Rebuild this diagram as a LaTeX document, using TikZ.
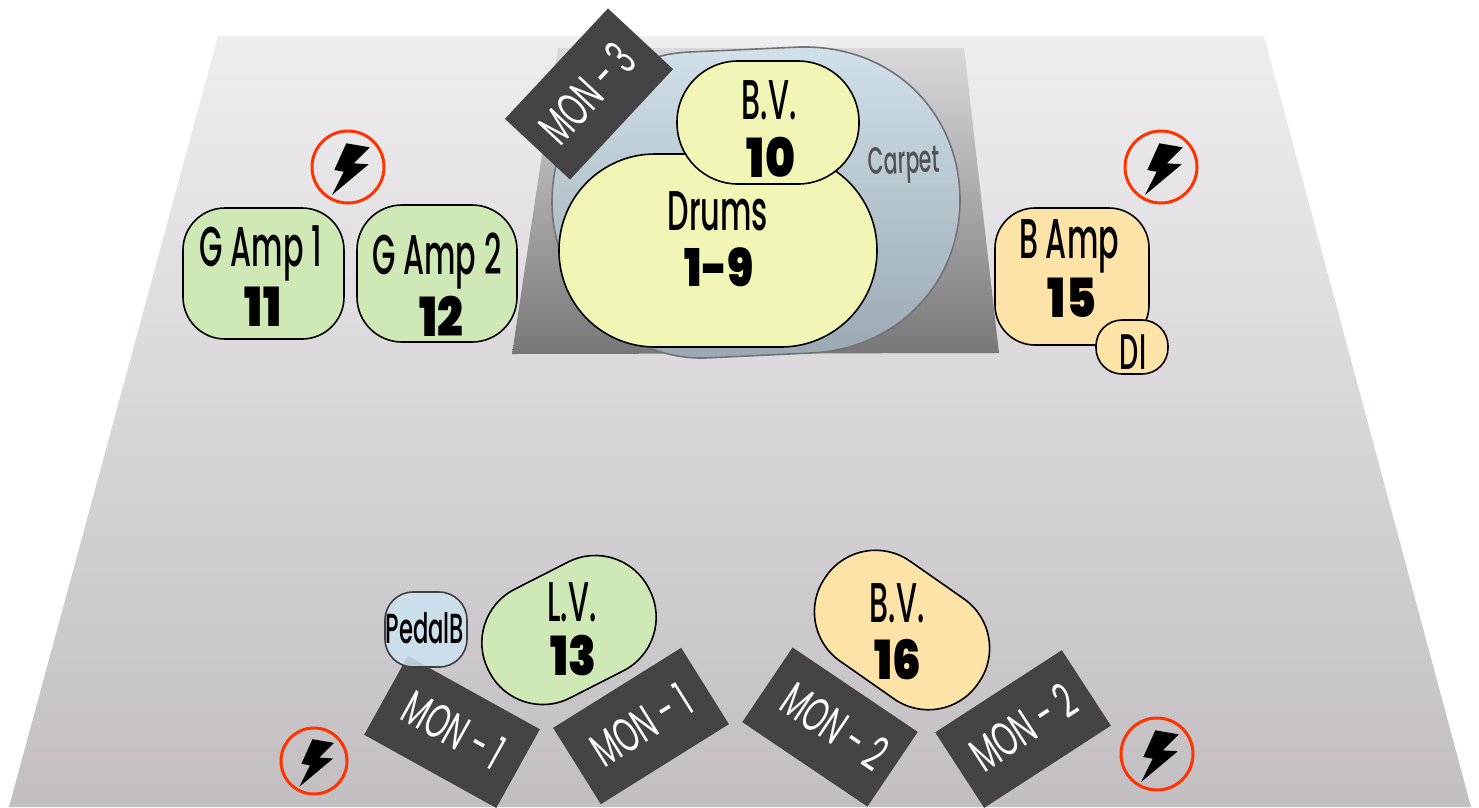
\documentclass[tikz,border=0pt]{standalone}
\usepackage{fontspec}
\setmainfont[UprightFont=* Medium,FakeStretch=0.54]{Poppins}
\newfontfamily\monf[FakeStretch=0.6]{Poppins}
\newfontfamily\heavy[UprightFont=* Black,FakeStretch=0.84]{Poppins}
\definecolor{stgtop}{HTML}{EEEDEF}
\definecolor{stgbot}{HTML}{C2BEC2}
\definecolor{grn}{HTML}{CEE8B6}
\definecolor{ylw}{HTML}{F1F5B5}
\definecolor{org}{HTML}{FDE3A7}
\definecolor{blu}{HTML}{CBE3EF}
\definecolor{crptop}{HTML}{D0E1E9}
\definecolor{crpbot}{HTML}{9AA9B1}
\definecolor{mon}{HTML}{444444}
\definecolor{bolt}{HTML}{FF3300}
\tikzset{
  x=1pt,y=-1pt,
  pad/.style={draw=black,line width=1.6pt,inner sep=0pt,outer sep=0pt},
  monbox/.style={fill=mon,inner sep=0pt,outer sep=0pt,minimum width=151pt,minimum height=90pt},
  montxt/.style={inner sep=0pt,text=white,font=\monf\fontsize{48}{48}\selectfont},
  lab/.style={inner sep=0pt,font=\fontsize{56}{56}\selectfont},
  num/.style={inner sep=0pt,font=\heavy\fontsize{54}{54}\selectfont},
  ring/.style={circle,draw=bolt,line width=3pt,inner sep=0pt,outer sep=0pt,minimum size=#1},
  pics/zap/.style={code={
    \fill[black] (-1.7,-23.7)--(21.7,-19.7)--(5.7,-3.7)--(20.7,-2.7)--(-16,28)--(-4.3,4.7)--(-13.7,3)--cycle;
  }}
}
\begin{document}
\begin{tikzpicture}
\useasboundingbox (0,0) rectangle (1479,807);
\fill[white] (0,0) rectangle (1479,807);
\clip (0,0) rectangle (1479,807);
% stage
\shade[top color=stgtop,bottom color=stgbot] (218,36)--(1264,36)--(1471,807)--(9,807)--cycle;
% riser
\shade[top color=black!15,bottom color=black!53] (558,48)--(964,48)--(999,353)--(512,354)--cycle;
% carpet
\path[draw=black!55,line width=1.6pt,top color=crptop,bottom color=crpbot]
  (552,202) .. controls (552,120) and (610,55) .. (690,52)
  -- (800,47) .. controls (895,45) and (960,115) .. (960,200)
  .. controls (960,285) and (895,350) .. (810,353)
  -- (705,358) .. controls (620,360) and (552,285) .. (552,202) -- cycle;
\node[inner sep=0pt,rotate=2,text=black!68,font=\fontsize{38}{38}\selectfont] (carpet) at (904,165) {Carpet};
% drums
\node[pad,fill=ylw,rounded corners=96pt,minimum width=318pt,minimum height=193pt] (drums) at (718,250.5) {};
\node[pad,fill=ylw,rounded corners=61pt,minimum width=182pt,minimum height=123pt] (bv) at (768,122.5) {};
\node[lab] (drumst) at (718,211) {Drums};
\node[num,font=\heavy\fontsize{52}{52}\selectfont] (drumsn) at (719,267) {1-9};
\node[lab] (bvt) at (769,100) {B.V.};
\node[num] (bvn) at (771,157) {10};
% mon 3
\node[monbox,minimum height=89pt,rotate=47] (mon3) at (589,94) {};
\node[montxt,rotate=47] (mon3t) at (587,93) {MON - 3};
% amps
\node[pad,fill=grn,rounded corners=42pt,minimum width=161pt,minimum height=131pt] (ga1) at (263.5,273.5) {};
\node[lab] (ga1t) at (261,253) {G Amp 1};
\node[num] (ga1n) at (263,307) {11};
\node[pad,fill=grn,rounded corners=45pt,minimum width=160pt,minimum height=137pt] (ga2) at (437,273.5) {};
\node[lab] (ga2t) at (437,261) {G Amp 2};
\node[num] (ga2n) at (441,316) {12};
\node[pad,fill=org,rounded corners=40pt,minimum width=154pt,minimum height=137pt] (ba) at (1072,276.5) {};
\node[lab] (bat) at (1069,246) {B Amp};
\node[num] (ban) at (1072,298) {15};
\node[pad,fill=org,rounded corners=26pt,minimum width=72pt,minimum height=54pt] (di) at (1132,347) {};
\node[lab,font=\fontsize{50}{50}\selectfont] (dit) at (1133,352) {DI};
% bolts
\node[ring=72pt] (r1) at (348,167) {};
\pic at (r1) {zap};
\node[ring=72pt] (r2) at (1161,167) {};
\pic at (r2) {zap};
\node[ring=66pt] (r3) at (314,761) {};
\pic[scale=.92] at (r3) {zap};
\node[ring=72pt] (r4) at (1157,754) {};
\pic at (r4) {zap};
% monitors
\node[monbox,rotate=-29] (m1a) at (452,732) {};
\node[montxt,rotate=-29] (m1at) at (454,730) {MON - 1};
\node[monbox,rotate=32] (m1b) at (641,726) {};
\node[montxt,rotate=32] (m1bt) at (641,725) {MON - 1};
\node[monbox,rotate=-34] (m2a) at (830,727) {};
\node[montxt,rotate=-34] (m2at) at (835,726) {MON - 2};
\node[monbox,rotate=33] (m2b) at (1023,729) {};
\node[montxt,rotate=33] (m2bt) at (1023,727) {MON - 2};
% singers
\node[pad,fill=grn,rounded corners=60pt,minimum width=180pt,minimum height=122pt,rotate=27] (lv) at (569,630) {};
\node[lab] (lvt) at (572,602) {L.V.};
\node[num] (lvn) at (573,656) {13};
\node[pad,fill=org,rounded corners=60pt,minimum width=186pt,minimum height=122pt,rotate=-35] (bv2) at (902,630) {};
\node[lab] (bv2t) at (897,603) {B.V.};
\node[num] (bv2n) at (898,660) {16};
% pedal
\node[draw=black!75,line width=1.6pt,fill=blu,fill opacity=.85,rounded corners=28pt,inner sep=0pt,outer sep=0pt,minimum width=82pt,minimum height=75pt] (pb) at (426,629.5) {};
\node[inner sep=0pt,font=\fontsize{42}{42}\selectfont] (pbt) at (425,628) {PedalB};
\end{tikzpicture}
\end{document}
